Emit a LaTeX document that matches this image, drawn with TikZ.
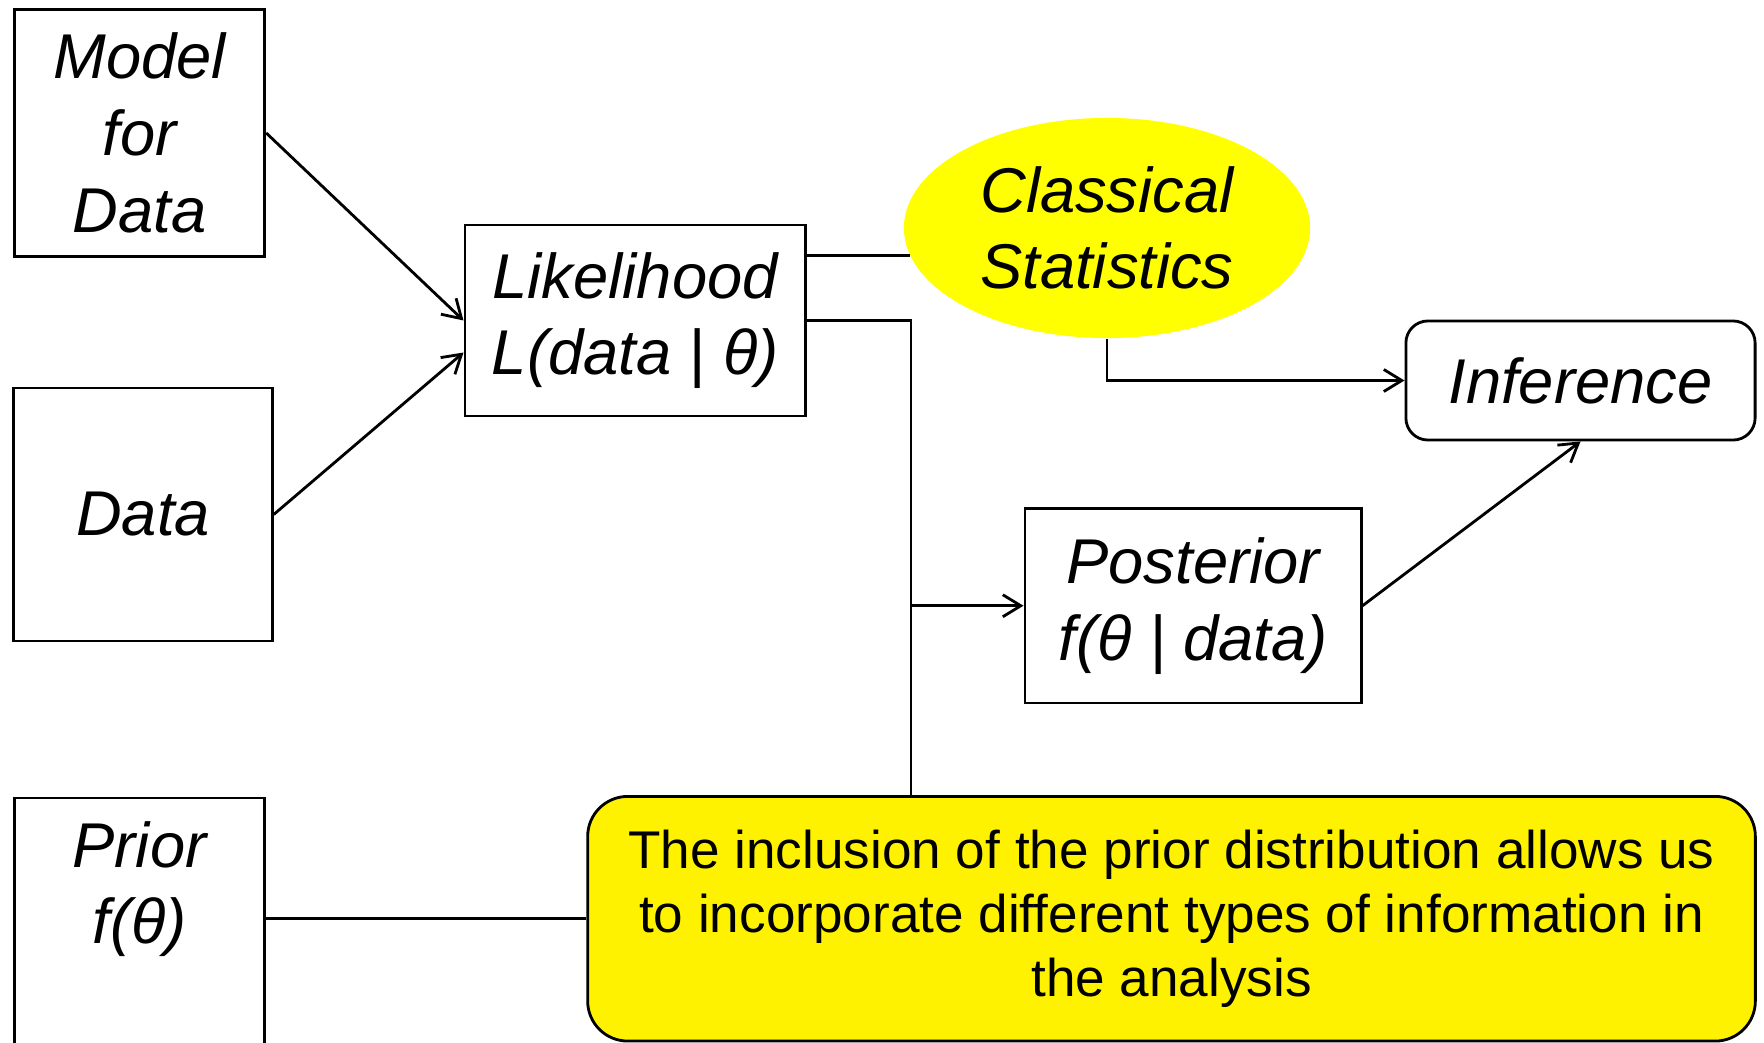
\documentclass[tikz,border=0pt]{standalone}
\usepackage{fontspec}
\setmainfont{Liberation Sans}
\usetikzlibrary{arrows.meta, shapes.geometric, positioning}
\pgfdeclareradialshading{glow}{\pgfpoint{0bp}{0bp}}{color(0bp)=(yellow); color(45bp)=(yellow); color(50bp)=(white)}

\begin{document}
\begin{tikzpicture}[x=0.01cm, y=-0.01cm,
  box/.style={
    rectangle, draw=black, line width=0.8pt,
    align=center, inner sep=0pt,
    font=\fontsize{18}{21.8}\selectfont\itshape
  },
  roundbox/.style={box, rounded corners=0.22cm},
  note/.style={
    rectangle, rounded corners=0.4cm,
    minimum width=11.67cm, minimum height=2.445cm,
    fill=yellow, draw=black, line width=0.8pt,
    align=center, font=\fontsize{15.1}{18.2}\selectfont
  },
  glowblob/.style={
    ellipse, shading=glow,
    minimum width=4.06cm, minimum height=2.2cm, inner sep=0pt,
    align=center, font=\fontsize{18}{21.8}\selectfont\itshape
  },
  arr/.style={-{Straight Barb[length=0.18cm, width=0.22cm]}, line width=0.8pt},
  link/.style={line width=0.8pt}
]
  \useasboundingbox (0,0) rectangle (1764,1043);

  % Inputs on the left
  \node[box, minimum width=2.505cm, minimum height=2.475cm] (model) at (139.5,133) {Model\\for\\Data};
  \node[box, minimum width=2.585cm, minimum height=2.53cm]  (data)  at (143,514.5) {Data};
  \node[box, minimum width=2.505cm, anchor=north, inner ysep=0.235cm, text depth=1.6cm] (prior) at (139.5,796.5) {Prior\\f(θ)};

  % Middle and right
  \node[box, minimum width=3.405cm, minimum height=1.91cm]  (lik)  at (635.25,320.5) {Likelihood\\L(data | θ)};
  \node[glowblob] (stat) at (1107,228) {Classical\\Statistics};
  \node[roundbox, minimum width=3.49cm, minimum height=1.19cm] (inf) at (1580.5,380.5) {Inference};
  \node[box, minimum width=3.36cm, minimum height=1.945cm] (post) at (1193,605.75) {Posterior\\f(θ | data)};

  % Remark
  \node[note] (note) at (1171.5,918.75) {The inclusion of the prior distribution allows us\\to incorporate different types of information in\\the analysis};

  \coordinate[right=1.04cm of lik.east] (bend);

  % Data -> Likelihood
  \draw[arr] (model.east) -- (lik.west);
  \draw[arr] (data.east) -- ([yshift=-0.32cm]lik.west);

  % Likelihood -> Classical / Posterior
  \draw[link] (stat.188 -| lik.east) -- (stat.188);
  \draw[link] (lik.east) -- (bend) -- (bend |- note.north);
  \draw[arr] (bend |- post.west) -- (post.west);

  % Towards Inference
  \draw[arr] (stat.south) |- (inf.west);
  \draw[arr] (post.east) -- (inf.south);

  % Prior -> remark
  \draw[link] (note.west -| prior.east) -- (note.west);
\end{tikzpicture}
\end{document}
